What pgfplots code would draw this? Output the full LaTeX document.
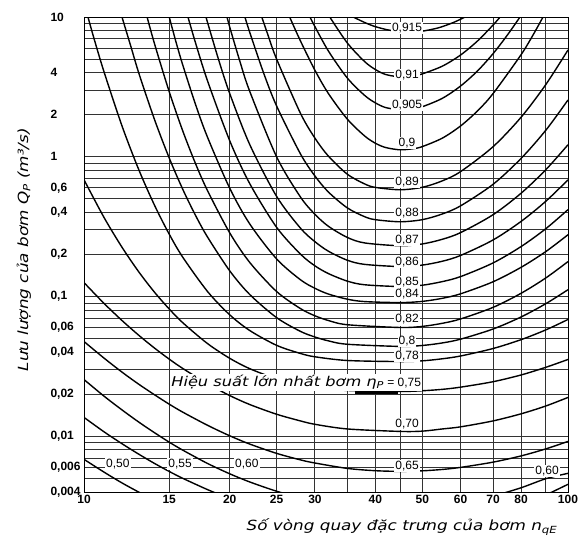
\documentclass[border=0pt]{standalone}
\usepackage{pgfplots}
\pgfplotsset{compat=1.18}
\usepackage{fontspec}
\setmainfont{Liberation Sans}
\newfontfamily\labelfont[FakeStretch=1.2, ItalicFont={DejaVu Sans Oblique}]{DejaVu Sans}
\begin{document}
\begin{tikzpicture}
\begin{axis}[
  at={(0pt,0pt)}, anchor=south west,
  scale only axis, width=484pt, height=475pt,
  xmode=log, ymode=log,
  xmin=10, xmax=100, ymin=0.004, ymax=10,
  xtick={10,15,20,25,30,40,50,60,70,80,100},
  xticklabels={10,15,20,25,30,40,50,60,70,80,100},
  minor xtick={35,45,90},
  ytick={0.004,0.006,0.01,0.02,0.04,0.06,0.1,0.2,0.4,0.6,1,2,4,10},
  yticklabels={{0,004},{0,006},{0,01},{0,02},{0,04},{0,06},{0,1},{0,2},{0,4},{0,6},1,2,4,10},
  minor ytick={0.005,0.007,0.008,0.009,0.03,0.05,0.07,0.08,0.09,0.3,0.5,0.7,0.8,0.9,3,5,6,7,8,9},
  grid=both,
  major grid style={draw=black!80, line width=0.9pt},
  minor grid style={draw=black!80, line width=0.9pt},
  major tick length=0pt, minor tick length=0pt,
  axis line style={line width=1pt},
  ticklabel style={font=\fontsize{12}{14}\selectfont\bfseries},
  yticklabel style={anchor=west, xshift=-37pt},
  /pgf/number format/assume math mode=true,
  xlabel={Số vòng quay đặc trưng của bơm n\textsubscript{qE}},
  ylabel={Lưu lượng của bơm Q\textsubscript{P} (m³/s)},
  xlabel style={at={(axis description cs:0.657,-0.074)}, anchor=center, font=\labelfont\itshape\fontsize{14}{16}\selectfont},
  ylabel style={at={(axis description cs:-0.124,0.51)}, anchor=center, font=\labelfont\itshape\fontsize{14}{16}\selectfont},
  cycle list={{black,solid,no markers}},
  every axis plot/.append style={line width=1.4pt, smooth, tension=0.5},
  clip=true,
]
% 0.915
\addplot coordinates {(36,10) (38,9.14) (40,8.53) (43,8.02) (47,7.81) (50,7.92) (54,8.37) (58,9.14) (61.3,10)};
% 0.91
\addplot coordinates {(32.2,10) (35,6.52) (38,4.80) (40,4.21) (42,3.88) (45,3.73) (48,3.80) (50,3.92) (55,4.45) (60,5.35) (65,6.73) (70,8.75) (72.4,10)};
% 0.905
\addplot coordinates {(29.3,10) (30,8.53) (32,5.70) (35,3.66) (38,2.75) (40,2.43) (42,2.25) (45,2.17) (48,2.21) (50,2.28) (55,2.62) (60,3.21) (65,4.11) (70,5.46) (75,7.45) (79.6,10)};
% 0.9
\addplot coordinates {(26.6,10) (28,6.75) (30,4.16) (32,2.83) (35,1.86) (38,1.41) (40,1.25) (42,1.165) (45,1.122) (48,1.144) (50,1.183) (55,1.36) (60,1.663) (65,2.128) (70,2.83) (80,5.38) (85,7.61) (88.8,10)};
% 0.89
\addplot coordinates {(23.3,10) (24,7.41) (25,5.00) (28,2.05) (30,1.36) (32,1.01) (35,0.751) (38,0.640) (40,0.604) (45,0.581) (50,0.605) (55,0.673) (60,0.784) (70,1.18) (80,1.92) (90,3.29) (100,5.81)};
% 0.88
\addplot coordinates {(21.5,10) (22,7.78) (23.5,3.98) (25,2.31) (28,1.05) (30,0.729) (32,0.559) (35,0.431) (38,0.373) (40,0.355) (45,0.343) (50,0.355) (55,0.390) (60,0.446) (70,0.635) (80,0.974) (90,1.55) (100,2.55)};
% 0.87
\addplot coordinates {(19.75,10) (20,8.49) (21,4.80) (22,2.94) (25,1.00) (28,0.516) (30,0.388) (32,0.318) (35,0.265) (38,0.242) (45,0.231) (50,0.238) (55,0.257) (60,0.287) (70,0.385) (80,0.549) (90,0.809) (100,1.22)};
% 0.86
\addplot coordinates {(17.87,10) (18,9.14) (19,4.87) (20,2.84) (22,1.224) (25,0.521) (28,0.309) (30,0.247) (32,0.211) (35,0.182) (38,0.170) (45,0.164) (50,0.168) (55,0.179) (60,0.197) (70,0.254) (80,0.345) (90,0.481) (100,0.684)};
% 0.85
\addplot coordinates {(16.4,10) (17,6.53) (18,3.49) (20,1.305) (22,0.643) (25,0.313) (28,0.2015) (30,0.166) (32,0.146) (35,0.129) (38,0.1215) (45,0.118) (50,0.1206) (55,0.128) (60,0.139) (70,0.174) (80,0.228) (90,0.306) (100,0.419)};
% 0.84
\addplot coordinates {(15,10) (15.5,6.58) (16,4.53) (17,2.37) (18,1.378) (20,0.597) (22,0.331) (25,0.186) (28,0.132) (30,0.1146) (32,0.1042) (35,0.0958) (38,0.0921) (45,0.0906) (50,0.0924) (55,0.0972) (60,0.1047) (70,0.1276) (80,0.162) (90,0.210) (100,0.277)};
% 0.82
\addplot coordinates {(13.5,10) (14,6.36) (15,2.92) (16,1.529) (17,0.894) (18,0.572) (20,0.286) (22,0.1755) (25,0.1087) (28,0.0821) (30,0.0729) (32,0.0674) (35,0.0629) (45,0.0601) (50,0.0612) (55,0.0644) (60,0.0692) (70,0.0837) (80,0.1056) (90,0.136) (100,0.178)};
% 0.8
\addplot coordinates {(11.98,10) (12.5,6.14) (13,3.90) (14,1.829) (15,0.980) (16,0.585) (17,0.381) (18,0.2665) (20,0.153) (22,0.1035) (25,0.0707) (28,0.0564) (30,0.0514) (32,0.0482) (35,0.0456) (45,0.0440) (50,0.0447) (55,0.0466) (60,0.0496) (70,0.0586) (80,0.0715) (90,0.089) (100,0.112)};
% 0.78
\addplot coordinates {(10.19,10) (10.5,6.92) (11,4.05) (12,1.638) (13,0.797) (14,0.447) (15,0.2796) (16,0.1912) (18,0.1087) (20,0.0741) (22,0.0572) (25,0.0448) (28,0.0392) (30,0.0371) (35,0.0349) (45,0.0343) (50,0.0347) (55,0.0359) (60,0.0376) (70,0.0425) (80,0.0492) (90,0.0578) (100,0.0686)};
% 0.75
\addplot coordinates {(10,0.685) (11,0.368) (12,0.2235) (13,0.149) (14,0.107) (15,0.0815) (16,0.065) (18,0.0461) (20,0.0362) (22,0.0305) (25,0.0258) (28,0.0234) (30,0.0224) (35,0.0213) (45,0.02096) (50,0.0212) (55,0.0217) (60,0.0225) (70,0.0246) (80,0.0275) (90,0.0312) (100,0.0355)};
% 0.70
\addplot coordinates {(10,0.1259) (11,0.0894) (12,0.0671) (13,0.0526) (14,0.0427) (15,0.0357) (16,0.0306) (18,0.0238) (20,0.0196) (22,0.0169) (25,0.0144) (28,0.0129) (30,0.0122) (35,0.0113) (45,0.01085) (50,0.0109) (55,0.0113) (60,0.0117) (70,0.0129) (80,0.0145) (90,0.0165) (100,0.0190)};
% 0.65
\addplot coordinates {(10,0.0477) (11,0.0363) (12,0.0287) (13,0.0235) (14,0.0198) (15,0.0170) (16,0.0149) (18,0.0120) (20,0.0101) (22,0.00881) (25,0.00756) (28,0.00679) (30,0.00645) (35,0.0059) (40,0.00568) (45,0.00562) (50,0.00567) (55,0.0058) (60,0.0060) (70,0.00654) (80,0.00725) (90,0.00814) (100,0.0092)};
% 0.60
\addplot coordinates {(10,0.0255) (11,0.0194) (12,0.0154) (13,0.0126) (14,0.0106) (15,0.00909) (16,0.00797) (18,0.0064) (20,0.0054) (22,0.00472) (25,0.00405) (28,0.00364) (30,0.00345) (35,0.00316) (45,0.00301) (55,0.00316) (60,0.00331) (65,0.0035) (70,0.00373) (80,0.00429) (90,0.00498) (100,0.00544)};
% 0.55
\addplot coordinates {(10,0.01367) (11,0.01078) (12,0.00883) (13,0.00743) (14,0.00639) (15,0.00561) (16,0.00501) (18,0.00416) (20,0.00358)};
\addplot coordinates {(80,0.00323) (85,0.0035) (90,0.00381) (100,0.00454)};
% 0.50
\addplot coordinates {(10,0.00685) (11,0.00555) (12,0.00463) (13,0.00398) (14,0.00348)};
% bold stroke under eta
\addplot[black, line width=2.2pt, sharp plot] coordinates {(36.3,0.0206) (44.6,0.0206)};

\begin{scope}[every node/.style={fill=white, inner sep=1pt, font=\fontsize{12}{14}\selectfont}]
\node at (axis cs:46.5,8.35) {0,915};
\node at (axis cs:46.5,3.85) {0,91};
\node at (axis cs:46.5,2.35) {0,905};
\node at (axis cs:46.5,1.259) {0,9};
\node at (axis cs:46.5,0.663) {0,89};
\node at (axis cs:46.5,0.398) {0,88};
\node at (axis cs:46.5,0.255) {0,87};
\node at (axis cs:46.5,0.178) {0,86};
\node at (axis cs:46.5,0.128) {0,85};
\node at (axis cs:46.5,0.1034) {0,84};
\node at (axis cs:46.5,0.0685) {0,82};
\node at (axis cs:46.5,0.0477) {0,8};
\node at (axis cs:46.5,0.0373) {0,78};
\node at (axis cs:46.5,0.01218) {0,70};
\node at (axis cs:46.5,0.0061) {0,65};
\node at (axis cs:90.5,0.00562) {0,60};
\node at (axis cs:11.75,0.00631) {0,50};
\node at (axis cs:15.8,0.00631) {0,55};
\node at (axis cs:21.7,0.00631) {0,60};
\node[anchor=east] at (axis cs:50,0.0243) {{\labelfont\itshape\fontsize{13.5}{15}\selectfont Hiệu suất lớn nhất bơm η\textsubscript{P}} = 0,75};
\end{scope}
\end{axis}
\pgfresetboundingbox
\useasboundingbox (-84pt,-46pt) rectangle (498pt,492pt);
\end{tikzpicture}
\end{document}
